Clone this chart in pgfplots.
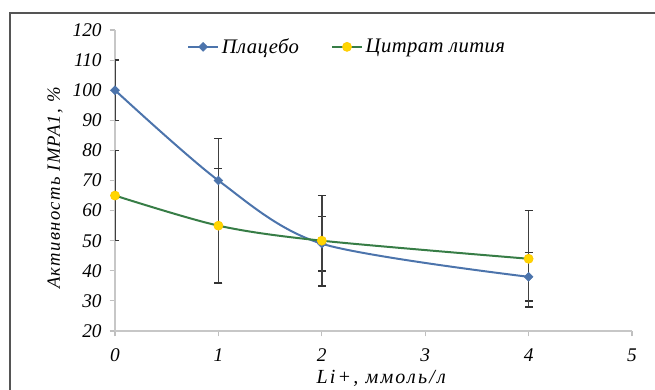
\documentclass[border=0pt]{standalone}
\usepackage{pgfplots}
\pgfplotsset{compat=1.18}
\usepackage{fontspec}
\setmainfont{Liberation Serif}
\definecolor{pblue}{RGB}{76,116,172}
\definecolor{lgreen}{RGB}{55,125,70}
\definecolor{lyellow}{RGB}{255,214,0}
\definecolor{frame}{RGB}{85,85,85}
\begin{document}
\begin{tikzpicture}
\useasboundingbox (0,0) rectangle (491.25pt,291.75pt);
\draw[frame, line width=1.2pt] (7.5pt,-20pt) -- (7.5pt,282pt) -- (520pt,282pt);
\begin{axis}[
  at={(86.25pt,43.5pt)}, anchor=south west,
  width=387.75pt, height=225.75pt, scale only axis,
  xmin=0, xmax=5, ymin=20, ymax=120,
  xtick={0,1,2,3,4,5}, ytick={20,30,...,120},
  axis x line=bottom, axis y line=left,
  axis line style={draw=black!22, -, line width=0.8pt},
  tick style={draw=black!25, line width=0.8pt},
  tick align=outside, major tick length=4pt,
  /pgf/number format/assume math mode=true,
  ticklabel style={font=\fontsize{14.5}{16}\selectfont\itshape},
  xticklabel style={yshift=-6pt},
  yticklabel style={xshift=-2.5pt},
  xlabel={Li+, ммоль/л},
  ylabel={Активность IMPA1, \%},
  xlabel style={at={(rel axis cs:0.515,-0.156)}, anchor=center, font=\fontsize{15}{16}\selectfont\itshape\addfontfeatures{LetterSpace=11}},
  ylabel style={at={(rel axis cs:-0.116,0.475)}, anchor=center, font=\fontsize{14}{16}\selectfont\itshape\addfontfeatures{LetterSpace=7}},
  legend style={at={(rel axis cs:0.139,0.944)}, anchor=west, draw=none, fill=none,
    font=\fontsize{15.5}{16}\selectfont\itshape\addfontfeatures{LetterSpace=2}, inner sep=0pt},
  legend columns=2,
  legend cell align=left,
  /tikz/every even column/.append style={column sep=22pt},
  legend image code/.code={\draw[mark repeat=2,mark phase=2,#1] plot coordinates {(0pt,0pt) (11.25pt,0pt) (22.5pt,0pt)};},
]
\addplot[pblue, line width=1.5pt, smooth, tension=0.5,
  mark=square*, mark size=2.3pt, mark options={rotate=45, fill=pblue, draw=pblue, line width=0.5pt},
  error bars/.cd, y dir=both, y explicit,
  error bar style={black!75, line width=1.1pt},
  error mark options={rotate=90, mark size=3pt, black!80, line width=1.1pt}]
coordinates {
 (0,100) += (0,10) -= (0,10)
 (1,70) += (0,14) -= (0,34)
 (2,49) += (0,9) -= (0,9)
 (4,38) += (0,8) -= (0,8)
};
\addlegendentry{Плацебо}
\addplot[lgreen, line width=1.5pt, smooth, tension=0.5,
  mark=*, mark size=3.4pt, mark options={fill=lyellow, draw=lyellow!85!orange, line width=0.5pt},
  error bars/.cd, y dir=both, y explicit,
  error bar style={black!75, line width=1.1pt},
  error mark options={rotate=90, mark size=3pt, black!80, line width=1.1pt}]
coordinates {
 (0,65) += (0,15) -= (0,15)
 (1,55) += (0,19) -= (0,19)
 (2,50) += (0,15) -= (0,15)
 (4,44) += (0,16) -= (0,16)
};
\addlegendentry{Цитрат лития}
\end{axis}
\end{tikzpicture}
\end{document}
